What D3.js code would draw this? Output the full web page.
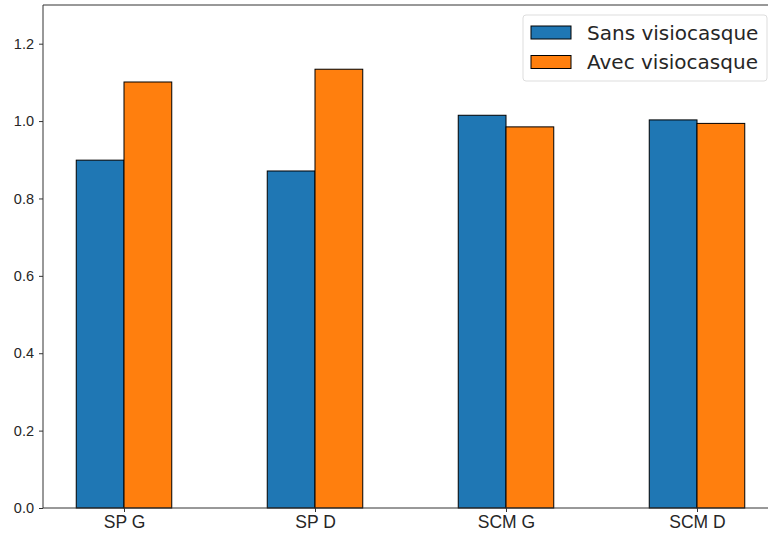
<!DOCTYPE html>
<html>
<head>
<meta charset="utf-8">
<script src="https://cdn.jsdelivr.net/npm/d3@7"></script>
<style>
  body { margin: 0; background: #fff; }
  svg { font-family: "DejaVu Sans", sans-serif; }
</style>
</head>
<body>
<div id="chart"></div>
<script>
// data
const categories = ["SP G", "SP D", "SCM G", "SCM D"];
const seriesNames = ["Sans visiocasque", "Avec visiocasque"];
const sansValues = [0.899, 0.871, 1.015, 1.003];
const avecValues = [1.101, 1.134, 0.985, 0.994];
const yTicks = [0.0, 0.2, 0.4, 0.6, 0.8, 1.0, 1.2];
const colors = ["#1f77b4", "#ff7f0e"];

const W = 768, H = 536;
const svg = d3.select("#chart").append("svg")
  .attr("width", W).attr("height", H);

// axes area (right edge runs past the picture)
const plotLeft = 43, plotTop = 5, plotBottom = 508;

// category positions 0..3, 1 unit = 191px
const x = d3.scaleLinear().domain([0, 1]).range([124, 315]);
const y = d3.scaleLinear().domain([0, 1.3]).range([plotBottom, plotTop]);
const barW = 0.25;

const series = [sansValues, avecValues];

series.forEach(function(vals, s) {
  svg.append("g").selectAll("rect")
    .data(vals)
    .join("rect")
      .attr("x", (d, i) => x(i - barW + s * barW))
      .attr("width", x(barW) - x(0))
      .attr("y", d => y(d))
      .attr("height", d => y(0) - y(d))
      .attr("fill", colors[s])
      .attr("stroke", "#000")
      .attr("stroke-width", 1);
});

// frame
svg.append("line").attr("x1", plotLeft).attr("x2", W).attr("y1", plotTop).attr("y2", plotTop)
  .attr("stroke", "#333").attr("stroke-width", 1);
svg.append("line").attr("x1", plotLeft).attr("x2", plotLeft).attr("y1", plotTop).attr("y2", plotBottom)
  .attr("stroke", "#333").attr("stroke-width", 1);

// y axis
const yAxis = svg.append("g")
  .attr("transform", `translate(${plotLeft},0)`)
  .call(d3.axisLeft(y).tickValues(yTicks).tickFormat(d3.format(".1f")).tickSize(4).tickPadding(5));
yAxis.select(".domain").remove();
yAxis.selectAll("text").style("font-size", "14.5px").attr("fill", "#262626");
yAxis.selectAll("line").attr("stroke", "#333");

// x axis
const xAxis = svg.append("g")
  .attr("transform", `translate(0,${plotBottom})`)
  .call(d3.axisBottom(x).tickValues(d3.range(categories.length))
    .tickFormat(i => categories[i]).tickSize(4).tickPadding(4));
xAxis.select(".domain").attr("d", `M${plotLeft},0H${W}`).attr("stroke", "#333");
xAxis.selectAll("text").style("font-size", "17.5px").attr("fill", "#262626");
xAxis.selectAll("line").attr("stroke", "#333");

// legend
const legend = svg.append("g").attr("transform", "translate(523,15)");
legend.append("rect")
  .attr("width", 244).attr("height", 66).attr("rx", 3)
  .attr("fill", "#fff").attr("fill-opacity", 0.8)
  .attr("stroke", "#ddd");
seriesNames.forEach(function(name, i) {
  const row = legend.append("g").attr("transform", `translate(0,${17.5 + i * 29.5})`);
  row.append("rect")
    .attr("x", 8).attr("y", -6.5).attr("width", 40).attr("height", 13)
    .attr("fill", colors[i]).attr("stroke", "#000");
  row.append("text")
    .attr("x", 64).attr("y", 0).attr("dy", "0.35em")
    .style("font-size", "20px").attr("fill", "#262626")
    .text(name);
});
</script>
</body>
</html>
